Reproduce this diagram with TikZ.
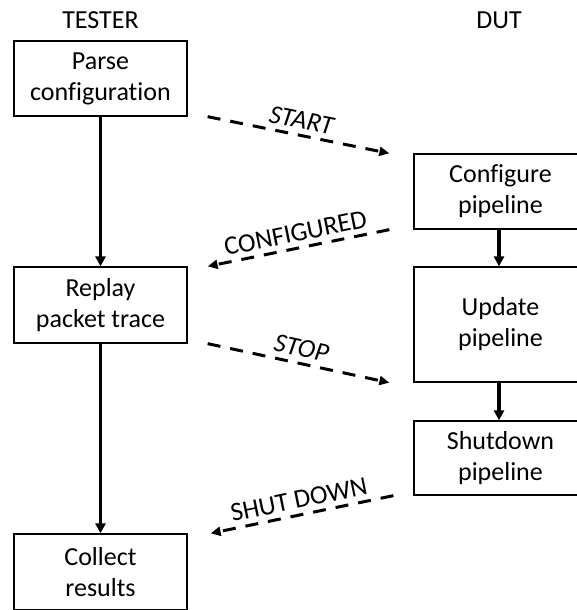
\documentclass[tikz,border=0pt]{standalone}
\usepackage{fontspec}
\setmainfont{Carlito}[Ligatures=NoCommon]
\usetikzlibrary{arrows.meta,calc}
\begin{document}
\begin{tikzpicture}[x=1pt,y=-1pt,
  every node/.style={font=\fontsize{26}{31}\selectfont},
  stepbox/.style={draw,line width=1.3pt,minimum width=173pt,align=center,inner sep=0pt},
  flow/.style={line width=3.2pt,-{Triangle[length=10pt,width=10pt]}},
  msg/.style={line width=3pt,dash pattern=on 13pt off 10pt,-{Triangle[length=10pt,width=9pt]}},
  lbl/.style={sloped,above=3pt,inner sep=2pt,font=\fontsize{26.5}{31}\selectfont}]
\useasboundingbox (0,0) rectangle (577,610);
\clip (0,0) rectangle (577,610);

% column headings
\node (tester) at (100.5,20) {TESTER};
\node (dut) at (499,20) {DUT};

% tester side
\node[stepbox,minimum height=75pt] (parse) at (100.5,78.5) {Parse\\configuration};
\node[stepbox,minimum height=76pt] (replay) at (100.5,305) {Replay\\packet trace};
\node[stepbox,minimum height=76pt] (collect) at (100.5,572) {Collect\\results};

% device side
\node[stepbox,minimum height=75pt] (conf) at (500.5,191.5) {Configure\\pipeline};
\node[stepbox,minimum height=115pt] (update) at (500.5,324.5) {Update\\pipeline};
\node[stepbox,minimum height=74pt] (shut) at (500.5,458) {Shutdown\\pipeline};

% local control flow
\draw[flow] (parse) -- (replay);
\draw[flow] (replay) -- (collect);
\draw[flow] (conf.south -| dut) -- (update.north -| dut);
\draw[flow] (update.south -| dut) -- (shut.north -| dut);

% messages between tester and device
\coordinate (s0) at ($(parse.south east)+(20,0)$);
\coordinate (s1) at ($(conf.north west)+(-24,0)$);
\coordinate (c0) at ($(conf.south west)+(-24,0)$);
\coordinate (c1) at ($(replay.north east)+(20,0)$);
\coordinate (p0) at ($(replay.south east)+(20,0)$);
\coordinate (p1) at ($(update.south west)+(-24,0)$);
\coordinate (d0) at ($(shut.south west)+(-20,0)$);
\coordinate (d1) at ($(collect.north east)+(23,0)$);

\draw[msg] (s0) -- node[lbl]{\itshape START} (s1);
\draw[msg] (c0) -- node[lbl]{CONFIGURED} (c1);
\draw[msg] (p0) -- node[lbl]{\itshape STOP} (p1);
\draw[msg] (d0) -- node[lbl]{SHUT DOWN} (d1);
\end{tikzpicture}
\end{document}
